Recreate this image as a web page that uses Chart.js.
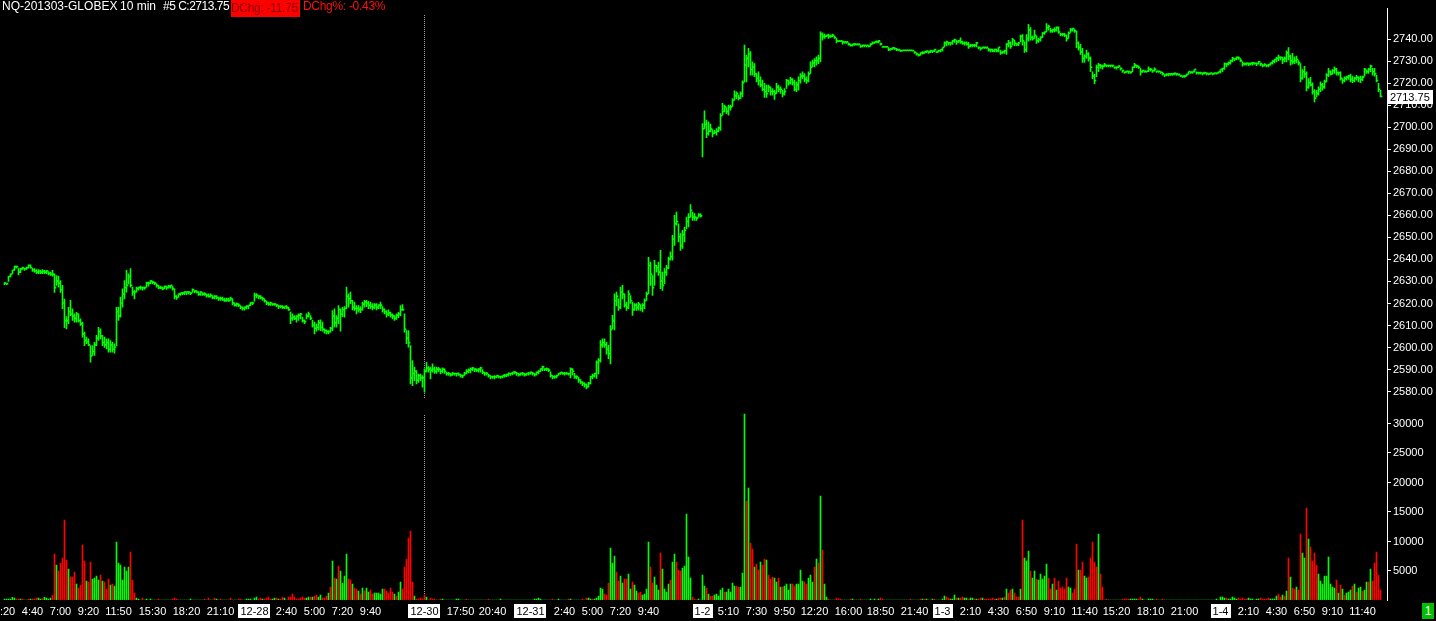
<!DOCTYPE html>
<html>
<head>
<meta charset="utf-8">
<script src="https://cdn.jsdelivr.net/npm/chart.js@4.4.0/dist/chart.umd.min.js"></script>
<style>
  html, body { margin: 0; padding: 0; background: #000; }
  #wrap { position: relative; width: 1436px; height: 621px; overflow: hidden; background: #000; }
  #chart { position: absolute; left: 0; top: 0; }
  .hdr { position: absolute; top: -1px; height: 17px; line-height: 17px; font: 12px 'Liberation Sans', Arial, sans-serif; color: #fff; white-space: pre; }
  #dchg { background: #ff0000; color: #8a0000; top: 0; line-height: 16px; height: 17px; width: 69px; letter-spacing: -0.3px; }
  #dpct { color: #ff1010; letter-spacing: -0.3px; }
  #page { position: absolute; left: 1422px; top: 603px; width: 12px; height: 16px; background: #00c000; color: #fff; font: 12px 'Liberation Sans', Arial, sans-serif; line-height: 16px; text-align: center; }
</style>
</head>
<body>
<div id="wrap">
  <canvas id="chart" width="1436" height="621"></canvas>
  <div class="hdr" style="left:2px">NQ-201303-GLOBEX</div>
  <div class="hdr" style="left:120px">10 min</div>
  <div class="hdr" style="left:163px;letter-spacing:-0.5px">#5 C:2713.75</div>
  <div class="hdr" id="dchg" style="left:231px">DChg: -11.75</div>
  <div class="hdr" id="dpct" style="left:303px">DChg%: -0.43%</div>
  <div id="page">1</div>
</div>
<script>
// 10 minute bars, one entry per bar, left to right
const lows = [
  2628.5, 2628.5, 2630, 2632, 2633.5, 2635, 2636, 2633, 2634, 2635.5, // 0
  2635, 2635.5, 2636, 2636, 2634.5, 2634.2, 2633.5, 2633.5, 2633.5, 2633.5,
  2633.5, 2633.5, 2633, 2632.7, 2632.4, 2625, 2628.2, 2627.4, 2625, 2617.6,
  2609, 2608.5, 2610.8, 2614.5, 2612.3, 2611.5, 2611.5, 2611.5, 2610, 2604.7,
  2600.9, 2601.7, 2600.9, 2593.3, 2596.4, 2596.4, 2600.9, 2603.2, 2603.9, 2600.9,
  2600.1, 2599.4, 2597.9, 2597.9, 2597.9, 2597.4, 2600.9, 2612.3, 2613.8, 2618.3, // 50
  2622.1, 2625.1, 2628.9, 2627.4, 2623.6, 2622.1, 2625.1, 2626, 2626.4, 2626,
  2626.4, 2627.4, 2627.9, 2629, 2628.9, 2628.5, 2627.4, 2626.7, 2626.7, 2626.2,
  2626.7, 2626.4, 2627, 2627, 2626, 2622.1, 2621.8, 2622.9, 2623.6, 2624,
  2624, 2624, 2624.2, 2624, 2625.1, 2624.8, 2624.8, 2623.6, 2623.6, 2623.6,
  2623.6, 2622.9, 2622.9, 2622.9, 2622.1, 2622.1, 2622.1, 2621.4, 2621.4, 2621.4, // 100
  2620.9, 2620.9, 2620.9, 2621.4, 2619.4, 2618.8, 2618.8, 2618.5, 2617.5, 2617,
  2617, 2617.5, 2617.5, 2619, 2619.5, 2621, 2622.5, 2622.1, 2622.1, 2621.4,
  2620.6, 2619.5, 2619.1, 2619.1, 2619.1, 2619.1, 2618.6, 2617.6, 2618, 2617.6,
  2617.6, 2617.6, 2616.8, 2610.8, 2612.3, 2612.6, 2611.5, 2612.3, 2613, 2611.5,
  2610.8, 2613, 2613.8, 2612.6, 2609.2, 2606.2, 2607.4, 2608, 2607.7, 2607.4, // 150
  2606.5, 2606.2, 2606.2, 2607, 2607.7, 2609.2, 2609.2, 2610.8, 2607.4, 2614,
  2613.8, 2617.6, 2618.3, 2619.9, 2617.1, 2616.8, 2615.3, 2616.1, 2615.8, 2617,
  2618.3, 2618.6, 2617.6, 2617.6, 2617.1, 2617.6, 2617.1, 2617.6, 2617.6, 2616.1,
  2615.3, 2613.8, 2614.5, 2613.8, 2613, 2612.3, 2612.8, 2613.5, 2614.5, 2616.8,
  2607, 2601.7, 2600.2, 2583.5, 2582.7, 2585, 2583.5, 2584.2, 2585, 2582, // 200
  2579.7, 2588.8, 2588.8, 2585.8, 2588.8, 2588.3, 2588.3, 2589, 2588, 2588.5,
  2588.3, 2587.5, 2587.3, 2587, 2587.3, 2587.5, 2587, 2587.3, 2586.5, 2586.3,
  2587.3, 2588, 2588.5, 2588.5, 2589.5, 2589, 2589, 2588.8, 2588.8, 2588,
  2587.3, 2587.5, 2586.5, 2585.8, 2586, 2585.8, 2586.2, 2586.2, 2586, 2586.2,
  2586.5, 2586.8, 2587, 2587.3, 2587.6, 2588, 2587.3, 2587, 2587.3, 2587.5, // 250
  2587, 2587.3, 2587.5, 2587.8, 2587.5, 2587, 2587.5, 2588, 2589, 2589.5,
  2589.5, 2589.5, 2589, 2586.5, 2585.8, 2586, 2586.2, 2587.3, 2587.8, 2587.8,
  2587.5, 2587.8, 2587.5, 2586.2, 2587.5, 2586, 2585.8, 2584.2, 2583.5, 2582.7,
  2582, 2581.2, 2582, 2583.5, 2585.8, 2586.5, 2586, 2588, 2593.3, 2600,
  2600, 2597, 2595, 2592.6, 2608.5, 2608, 2619, 2616.8, 2617.6, 2622.1, // 300
  2618.3, 2616.8, 2617.6, 2620, 2614.6, 2616.8, 2616.8, 2617, 2616.8, 2616.2,
  2617.6, 2621.4, 2624.4, 2628.2, 2623.6, 2628.2, 2634.2, 2632.7, 2626.7, 2625.9,
  2629, 2632.7, 2635.8, 2639.6, 2639.6, 2646.4, 2655.5, 2647.9, 2644.1, 2645,
  2647.9, 2654, 2654.7, 2659.2, 2657.7, 2657.7, 2657.7, 2659.2, 2659.2, 2686.5,
  2699.4, 2695.3, 2696.4, 2697.9, 2695.6, 2697.1, 2696.4, 2697.9, 2698.6, 2705.5, // 350
  2707, 2706.2, 2705.5, 2707.7, 2709.5, 2712.3, 2713, 2712.3, 2713, 2713.8,
  2720.6, 2720.6, 2727.4, 2723.6, 2723.6, 2722.9, 2720.6, 2719.1, 2718.3, 2716.5,
  2713.5, 2713.5, 2716.1, 2714.6, 2714.6, 2712.6, 2715.3, 2716.1, 2715.3, 2713.8,
  2714.6, 2717.6, 2719.1, 2719.5, 2719.1, 2716.5, 2716.1, 2716.8, 2720, 2722.1,
  2720.6, 2719.9, 2720.6, 2724.4, 2727.4, 2727.4, 2728.2, 2728.9, 2729.7, 2739.5, // 400
  2740.3, 2741.1, 2740.3, 2740.8, 2741.1, 2740.3, 2738.3, 2738.8, 2738.8, 2737.7,
  2738, 2738, 2737.3, 2736.8, 2736.8, 2737.1, 2737.3, 2737.3, 2736.2, 2736.5,
  2736.5, 2736.5, 2736.5, 2736.8, 2737.7, 2738, 2738.3, 2738.3, 2737.3, 2736.2,
  2736.2, 2736.2, 2734.7, 2735, 2735.3, 2735.3, 2734.7, 2734.7, 2734.3, 2734.6,
  2734.6, 2734.6, 2734.6, 2734.6, 2734.5, 2733.5, 2732.7, 2732.3, 2732.7, 2733.2, // 450
  2733.5, 2733.8, 2733.5, 2733.8, 2733.8, 2734.3, 2733.8, 2734.2, 2734.2, 2734.5,
  2736.5, 2736.9, 2737.3, 2737.3, 2737.6, 2738.5, 2737.6, 2738.5, 2738, 2737.6,
  2737.3, 2737.3, 2735.8, 2736.4, 2736.5, 2736.5, 2736.5, 2735.5, 2735, 2735.8,
  2735.8, 2735.8, 2734.5, 2734.2, 2734.2, 2734.2, 2734.2, 2734.2, 2733, 2733.5,
  2733.5, 2733, 2736.5, 2735.8, 2737.3, 2737, 2737, 2737, 2738.8, 2737.3, // 500
  2734, 2734.2, 2739.1, 2739.5, 2739.5, 2740.3, 2738, 2738.5, 2739.1, 2740.6,
  2742.1, 2743.3, 2744.1, 2743, 2743, 2743.3, 2743.6, 2742.6, 2741.5, 2741.5,
  2741.1, 2739.1, 2740.3, 2743, 2743.6, 2743, 2736.1, 2735, 2733, 2729.4,
  2729.4, 2731.2, 2730, 2725.2, 2722.1, 2719.8, 2722.9, 2725.2, 2726.7, 2726.4,
  2727.4, 2727.4, 2727.4, 2727.4, 2727.4, 2726.7, 2726.4, 2727, 2725.9, 2724.9, // 550
  2724.4, 2724.9, 2724.4, 2724.4, 2725.2, 2727, 2727, 2726.7, 2723.6, 2724.9,
  2724.9, 2724.9, 2725.2, 2725.5, 2724.9, 2725.5, 2724.9, 2724.9, 2724.4, 2723.6,
  2722.9, 2723.3, 2723.3, 2723.5, 2723.5, 2723.8, 2723.5, 2723.5, 2722.9, 2722.6,
  2722.6, 2723.2, 2724.1, 2724.4, 2724.4, 2725, 2724.1, 2724.1, 2724.1, 2723.8,
  2724.1, 2723.8, 2723.8, 2724.1, 2723.8, 2724.1, 2724.1, 2724.4, 2724.7, 2725.2, // 600
  2726.2, 2727.4, 2728.2, 2728.6, 2729.7, 2730.2, 2730.5, 2730.8, 2729.7, 2727.7,
  2728.2, 2728.2, 2728, 2728.2, 2728.2, 2728.5, 2728, 2728.6, 2728, 2727.4,
  2727.7, 2727.4, 2727.4, 2728.2, 2728.6, 2729.2, 2729.7, 2730.2, 2730.5, 2728.9,
  2729.7, 2729.7, 2730.5, 2728.2, 2728.6, 2728.9, 2729.2, 2728.2, 2720.6, 2721.7,
  2722.6, 2716.5, 2717.6, 2718.6, 2715, 2711.5, 2713.8, 2714.6, 2716.1, 2716.8, // 650
  2717.6, 2720.6, 2722.9, 2723.6, 2724.1, 2724.4, 2723.6, 2723.6, 2721.4, 2719.9,
  2720.6, 2721.4, 2721.7, 2720.6, 2720.2, 2720.6, 2721.4, 2720.6, 2720.2, 2721.1,
  2723.2, 2724.4, 2724.4, 2725.2, 2723.6, 2723.2, 2720.6, 2716.1, 2713.8
];

const highs = [
  2629.5, 2629, 2632.3, 2633.5, 2635, 2637, 2637, 2636, 2636, 2636.5, // 0
  2636, 2636.5, 2637.5, 2637.5, 2636, 2635.8, 2635.4, 2635.4, 2635, 2635.4,
  2635, 2635, 2634.5, 2634.2, 2635, 2633.5, 2632.7, 2632.4, 2630.4, 2628.2,
  2622, 2614, 2618.3, 2621.4, 2617.6, 2615.3, 2616, 2615.3, 2613, 2611.5,
  2607, 2604.7, 2603.9, 2600.9, 2600.9, 2602.4, 2605.5, 2609.2, 2608.5, 2605.5,
  2604.7, 2603.9, 2603.9, 2603.2, 2602.4, 2601.7, 2618.3, 2618.3, 2622.9, 2626.7, // 50
  2630.4, 2635, 2633.5, 2635.8, 2627.4, 2625.9, 2627.4, 2627.4, 2627.9, 2627.4,
  2627.4, 2629.7, 2629.7, 2630.4, 2630, 2629.7, 2628.9, 2628.2, 2627.9, 2627.4,
  2627.9, 2627.9, 2628.2, 2628.2, 2627.9, 2626.7, 2623.6, 2624.4, 2624.8, 2625.1,
  2625.4, 2625.4, 2625.4, 2625.1, 2626.7, 2625.9, 2625.9, 2625.4, 2625.4, 2625,
  2625, 2624.4, 2624.4, 2624.4, 2623.6, 2623.6, 2623.6, 2622.9, 2622.9, 2622.9, // 100
  2622.4, 2622.4, 2622.4, 2622.9, 2622.1, 2620.3, 2620.3, 2620, 2619, 2618.5,
  2618.5, 2619, 2619, 2620.5, 2620.6, 2624.7, 2624.5, 2623.6, 2623.6, 2622.9,
  2622.1, 2621.1, 2620.6, 2620.6, 2620, 2620, 2619.5, 2619.1, 2619.1, 2619.1,
  2618.6, 2619.1, 2618.3, 2616.1, 2615.3, 2614.5, 2614.5, 2615.3, 2615.5, 2613.8,
  2612.6, 2615.3, 2616.1, 2614.5, 2612.3, 2611.5, 2610.8, 2612.3, 2612.6, 2611.5, // 150
  2608.5, 2608, 2607.7, 2609.2, 2616.8, 2617.6, 2614.5, 2619.1, 2617.6, 2618.3,
  2618.6, 2627.4, 2624.4, 2625.2, 2621.4, 2620.6, 2619.1, 2619.1, 2618.6, 2620.6,
  2621.4, 2621.4, 2621, 2620.6, 2619.9, 2619.9, 2619.9, 2619.5, 2620.6, 2618.6,
  2617.6, 2616.8, 2617.1, 2616.1, 2615.3, 2614.5, 2615.3, 2616, 2619.1, 2619.5,
  2615.3, 2607.7, 2607.7, 2600.9, 2594.1, 2591.1, 2589.5, 2588, 2588, 2587.3, // 200
  2590.3, 2593.3, 2591.4, 2591.1, 2592.6, 2591.1, 2591.1, 2591, 2590.3, 2590.8,
  2590.3, 2588.8, 2588.8, 2588.3, 2588.8, 2588.3, 2588.3, 2588.5, 2588, 2587.5,
  2588.8, 2590, 2590.3, 2590.8, 2591, 2590.5, 2590.3, 2590.5, 2591.1, 2590,
  2588.8, 2588.8, 2587.8, 2587.3, 2587, 2587.3, 2587.3, 2587.3, 2587, 2587.3,
  2587.8, 2588, 2588.5, 2588.3, 2588.8, 2589.2, 2588.8, 2588.3, 2588.5, 2588.8, // 250
  2588.3, 2588.3, 2588.8, 2589, 2588.8, 2588.3, 2589, 2589.5, 2590.5, 2591.6,
  2590.5, 2590.8, 2590.5, 2589, 2587.3, 2587.3, 2587.5, 2588.3, 2588.8, 2588.8,
  2588.8, 2588.8, 2588.3, 2590.8, 2590.5, 2588.3, 2587.3, 2586.5, 2585.5, 2584.5,
  2584, 2583.5, 2584.2, 2587, 2588, 2588.3, 2594, 2595, 2603.2, 2604,
  2603.9, 2602.4, 2601, 2610, 2614.6, 2624.4, 2625.2, 2622.1, 2627.4, 2628.2, // 300
  2624.4, 2620.6, 2625.9, 2623.6, 2620.6, 2619.9, 2619.9, 2620.5, 2619.5, 2619.9,
  2622.1, 2625.2, 2641, 2638.8, 2632.7, 2639.6, 2637.3, 2638.8, 2644.1, 2634.2,
  2635.8, 2637.3, 2641.1, 2643.4, 2650.9, 2660, 2661.5, 2656.2, 2651.7, 2653.2,
  2654.7, 2659.2, 2660.8, 2664.9, 2661.5, 2660.8, 2659.2, 2660.8, 2660.8, 2701.7,
  2707.4, 2703.2, 2702.4, 2701.4, 2698.9, 2698.6, 2699.4, 2700.2, 2706.2, 2710.8, // 350
  2710, 2708.9, 2710, 2710, 2713, 2716.5, 2716.1, 2714.6, 2716.1, 2721.1,
  2737.3, 2732.7, 2735.8, 2734.3, 2729.7, 2728.9, 2724.4, 2725.2, 2722.9, 2721.4,
  2719.9, 2719.1, 2719.1, 2718.3, 2717.6, 2716.8, 2719.9, 2719.1, 2718.3, 2716.8,
  2717.6, 2721.7, 2721.4, 2722.6, 2722.1, 2721.4, 2720.6, 2722.9, 2724.4, 2725.2,
  2724.4, 2722.9, 2725.2, 2729.7, 2730.5, 2731.2, 2732, 2732.7, 2743.3, 2742.9, // 400
  2742.3, 2741.8, 2742.3, 2741.8, 2742.3, 2741.4, 2740.3, 2739.2, 2739.2, 2739.2,
  2738.8, 2738.8, 2738.3, 2737.7, 2737.7, 2738, 2737.7, 2737.7, 2737.3, 2737.3,
  2737.3, 2737.1, 2737.1, 2738, 2738.8, 2738.8, 2739.2, 2739.5, 2738.3, 2736.5,
  2736.5, 2736.5, 2736.2, 2735.8, 2736.2, 2736.2, 2735.8, 2735.3, 2735, 2734.8,
  2734.8, 2734.8, 2734.8, 2734.8, 2734.8, 2734.3, 2733.8, 2733.2, 2733.8, 2734.3, // 450
  2734.3, 2734.7, 2734.3, 2735, 2734.7, 2735.3, 2734.3, 2735, 2735.3, 2736.1,
  2738.8, 2739.1, 2738.5, 2738.5, 2739.5, 2740, 2739.5, 2739.5, 2740.6, 2739.1,
  2738.8, 2738.8, 2738.5, 2737.6, 2737.6, 2737.6, 2738.5, 2736.5, 2736.1, 2736.4,
  2736.4, 2736.4, 2735.8, 2735.5, 2735.5, 2735.5, 2735.5, 2736.1, 2735, 2734.5,
  2735, 2738, 2739.5, 2738.8, 2740.3, 2739.5, 2738, 2738.5, 2741.8, 2742.1, // 500
  2738.8, 2742.1, 2746.7, 2745.2, 2741.5, 2744.1, 2741.5, 2740.3, 2741.1, 2743,
  2743.3, 2747.1, 2746.4, 2744.9, 2744.5, 2745.2, 2745.6, 2745.6, 2742.6, 2742.6,
  2742.6, 2741.8, 2743.3, 2744.9, 2744.9, 2744.5, 2743.6, 2738.8, 2737.6, 2735.8,
  2733, 2735, 2733.9, 2732, 2725.2, 2724, 2728.2, 2729, 2728.5, 2728.2,
  2729, 2728.2, 2728.2, 2728.2, 2728.2, 2727.4, 2727.4, 2727.9, 2727, 2725.9, // 550
  2725.2, 2725.5, 2725.5, 2725.2, 2727.4, 2729, 2728.2, 2727.9, 2726.7, 2725.9,
  2725.5, 2725.5, 2727.4, 2726.7, 2725.9, 2727, 2725.5, 2725.5, 2725.2, 2724.9,
  2723.9, 2724.4, 2724.4, 2724.4, 2724.4, 2724.7, 2724.4, 2724.1, 2723.6, 2723.2,
  2723.6, 2724.1, 2725.2, 2725.2, 2725.2, 2726.2, 2725.2, 2725, 2725, 2724.7,
  2725, 2724.7, 2724.4, 2724.7, 2724.4, 2724.7, 2724.7, 2725.2, 2726.2, 2726.7, // 600
  2729.2, 2728.9, 2729.7, 2730.5, 2731.7, 2731.2, 2732, 2732, 2731.2, 2729.7,
  2729.2, 2729.2, 2729.2, 2729.2, 2729.5, 2729.2, 2729.2, 2729.9, 2729.2, 2728.6,
  2728.9, 2728.2, 2728.6, 2729.2, 2730.2, 2730.8, 2731.7, 2732.7, 2732, 2731.7,
  2732, 2734.7, 2736.2, 2732.7, 2733.5, 2732, 2732.3, 2730.2, 2728.9, 2726.2,
  2727.7, 2725.2, 2722.1, 2722.6, 2720.2, 2717.1, 2716.8, 2718.3, 2720.6, 2719.9, // 650
  2721.4, 2724.4, 2726.7, 2725.6, 2726.2, 2727.4, 2726.7, 2725.2, 2725.2, 2722.1,
  2722.9, 2723.2, 2723.6, 2724.1, 2723.2, 2722.6, 2723.6, 2722.9, 2723.2, 2723.2,
  2726.7, 2725.9, 2726.7, 2728.2, 2726.7, 2726.7, 2723.6, 2719.9, 2716.8
];

const closes = [
  2629, 2628.75, 2632, 2633, 2635, 2636.5, 2636.5, 2634, 2635.5, 2636, // 0
  2635.5, 2636, 2637, 2636, 2635, 2634.5, 2634, 2634.5, 2634, 2634.5,
  2634, 2634.5, 2633.5, 2633, 2633, 2627, 2630, 2629, 2626, 2620,
  2612, 2612, 2616, 2615, 2614, 2613, 2615, 2612, 2610.5, 2606,
  2603, 2602.5, 2601, 2596, 2598, 2601, 2604, 2607, 2605, 2602,
  2601, 2602, 2599, 2601, 2599, 2600, 2616, 2614, 2620, 2624, // 50
  2627, 2628, 2632, 2628, 2625, 2625, 2626.5, 2627, 2627, 2627,
  2627, 2629, 2629, 2630, 2629.5, 2629, 2628, 2627, 2627, 2626.5,
  2627.5, 2627, 2627.5, 2628, 2626.5, 2623, 2622.5, 2624, 2624.5, 2624.5,
  2625, 2625, 2625, 2624.5, 2626, 2625.5, 2625, 2624, 2625, 2624,
  2624, 2623.5, 2623, 2623.5, 2622.5, 2623, 2622.5, 2622, 2622, 2621.5, // 100
  2621, 2621.5, 2621, 2622, 2620, 2619, 2619.5, 2619, 2618, 2617.5,
  2618, 2618.5, 2619, 2620, 2620, 2623.5, 2623.5, 2623, 2622.5, 2622,
  2621, 2620, 2619.5, 2620, 2619.5, 2619.5, 2619, 2618.5, 2618.5, 2618,
  2618.5, 2618, 2617, 2613, 2613.5, 2613, 2614, 2614.5, 2615, 2612,
  2611.5, 2614, 2615, 2613, 2610, 2608.5, 2609, 2611, 2609, 2608, // 150
  2607.5, 2607, 2607, 2608.5, 2614, 2611, 2613, 2617, 2615, 2617,
  2617.5, 2623, 2622, 2621, 2618, 2617.5, 2617.5, 2617, 2617, 2619.5,
  2620.5, 2620, 2619, 2618.5, 2618, 2619, 2618, 2619, 2619, 2617,
  2616, 2615, 2615.5, 2614.5, 2614, 2613, 2614.5, 2615, 2617, 2617,
  2608, 2604, 2602, 2586, 2588, 2589, 2585, 2587, 2586, 2586, // 200
  2589, 2590.5, 2590, 2589.5, 2590, 2589, 2590, 2590, 2589, 2590,
  2589, 2588, 2588, 2587.5, 2588, 2588, 2588, 2587.5, 2587, 2587,
  2588, 2589, 2589.5, 2590, 2590.5, 2590, 2589.5, 2590, 2590.5, 2588.5,
  2588, 2588, 2587, 2586.5, 2586.5, 2586.5, 2587, 2586.5, 2586.5, 2587,
  2587, 2587.5, 2588, 2588, 2588.5, 2588.5, 2588, 2587.5, 2588, 2588, // 250
  2587.5, 2588, 2588, 2588.5, 2588, 2587.5, 2588.5, 2589, 2590, 2591,
  2590, 2590, 2589.5, 2587, 2586.5, 2586.5, 2587, 2588, 2588.5, 2588,
  2588, 2588, 2588, 2590, 2589, 2586.5, 2586.5, 2585, 2584, 2583.5,
  2583, 2582, 2583.5, 2586.5, 2587, 2588, 2593, 2594, 2601, 2602,
  2601, 2599, 2597, 2608, 2612, 2621, 2623, 2618, 2625, 2624, // 300
  2619, 2618, 2624, 2621, 2617, 2619, 2618, 2619.5, 2617.5, 2619,
  2621, 2624, 2637, 2633, 2627, 2637, 2636, 2634, 2630, 2628,
  2634, 2636, 2640, 2641, 2649, 2656, 2657, 2650, 2646, 2651,
  2653, 2657, 2659, 2662, 2659, 2659, 2658.5, 2660, 2659.5, 2699,
  2701, 2697, 2698, 2699, 2697, 2697.5, 2698, 2699.5, 2705, 2707, // 350
  2709, 2707, 2709, 2709, 2712, 2714, 2715, 2713, 2715, 2720,
  2728, 2731, 2733, 2726, 2727, 2724, 2722, 2721, 2719, 2717,
  2716, 2715, 2718, 2716, 2716, 2715, 2718, 2717, 2717, 2715,
  2716, 2721, 2720, 2721.5, 2720, 2717, 2719, 2721, 2723, 2723,
  2721.5, 2721, 2724, 2727, 2729, 2730, 2730, 2731, 2742, 2741, // 400
  2741, 2741.5, 2741, 2741, 2741.5, 2740.5, 2739, 2739, 2739, 2738.5,
  2738.5, 2738.5, 2737.5, 2737, 2737.5, 2737.5, 2737.5, 2737.5, 2736.5, 2737,
  2737, 2737, 2736.5, 2737.5, 2738, 2738.5, 2738.5, 2739, 2737.5, 2736.3,
  2736.3, 2736.3, 2735, 2735.3, 2735.8, 2735.5, 2735, 2735, 2734.5, 2734.7,
  2734.7, 2734.7, 2734.7, 2734.7, 2734.6, 2733.8, 2733, 2732.5, 2733.5, 2733.5, // 450
  2734, 2734.3, 2734, 2734.5, 2734.3, 2735, 2734, 2734.5, 2735, 2736,
  2738, 2738.5, 2738, 2738, 2739, 2739.5, 2738.5, 2739, 2738.5, 2738,
  2738, 2737.5, 2736.5, 2737, 2737, 2737, 2738, 2736, 2735.5, 2736,
  2736, 2736, 2735, 2735, 2734.5, 2735, 2734.5, 2736, 2733.5, 2734,
  2734.5, 2737.5, 2738, 2736.5, 2739.5, 2738, 2737.5, 2738, 2741, 2739, // 500
  2735, 2740, 2744, 2740.5, 2740, 2741.5, 2739, 2739.5, 2740.5, 2742.5,
  2743, 2745, 2745.5, 2743.5, 2744, 2744, 2745, 2743, 2742, 2742,
  2741.5, 2740, 2742.5, 2744, 2744.5, 2743.5, 2738, 2736, 2734, 2731,
  2732, 2733, 2731, 2727, 2723, 2721, 2727, 2728, 2727.5, 2727.5,
  2728, 2727.8, 2727.8, 2727.8, 2727.8, 2727, 2727, 2727.5, 2726.5, 2725.5, // 550
  2724.8, 2725.2, 2725, 2724.8, 2727, 2728, 2727.5, 2727, 2725, 2725.5,
  2725.2, 2725.2, 2726, 2726, 2725.5, 2726, 2725.2, 2725.2, 2724.8, 2724,
  2723.5, 2723.8, 2724, 2724, 2724, 2724.2, 2724, 2723.8, 2723.2, 2723,
  2723, 2723.8, 2725, 2724.8, 2725, 2726, 2724.5, 2724.5, 2724.4, 2724.3,
  2724.5, 2724.2, 2724, 2724.4, 2724.1, 2724.4, 2724.4, 2725, 2726, 2726.5, // 600
  2728.5, 2728.5, 2729, 2730, 2731, 2730.8, 2731.5, 2731.2, 2730, 2728.5,
  2728.5, 2728.8, 2728.5, 2728.8, 2729, 2728.8, 2728.6, 2729.5, 2728.5, 2727.8,
  2728.2, 2727.8, 2728.2, 2729, 2729.8, 2730.5, 2731, 2731.5, 2731.5, 2730.5,
  2731, 2733.5, 2732, 2730, 2729.5, 2730, 2730.5, 2729, 2722, 2725,
  2724, 2718, 2720, 2719, 2716, 2713, 2715, 2717, 2719, 2718, // 650
  2720.5, 2723.5, 2725, 2724, 2725.5, 2726, 2724.5, 2724.5, 2722, 2721,
  2722, 2722.5, 2723, 2721.5, 2721, 2722, 2722.5, 2722, 2721.5, 2722.5,
  2726, 2725, 2726, 2727.5, 2725, 2724, 2721, 2717, 2713.75
];

const volume = [
  170, 170, 170, 170, 450, 340, 170, 170, 170, 170, // 0
  0, 0, 170, 170, 170, 170, 340, 340, 170, 250,
  450, 340, 170, 340, 790, 7770, 5900, 4900, 6250, 7100,
  13500, 6750, 5240, 3880, 3880, 4730, 2700, 2030, 2530, 9290,
  6590, 3210, 3040, 6420, 3550, 3720, 4050, 3380, 4220, 3210,
  3040, 1860, 3550, 2530, 2700, 2360, 9800, 6250, 5910, 3380, // 50
  5570, 4900, 5570, 8110, 3380, 1180, 340, 170, 0, 340,
  0, 170, 0, 170, 0, 0, 0, 170, 0, 0,
  0, 0, 0, 0, 170, 340, 170, 0, 0, 0,
  0, 0, 0, 170, 0, 0, 0, 0, 0, 0,
  170, 0, 340, 0, 0, 340, 170, 0, 170, 0, // 100
  0, 0, 0, 340, 0, 0, 0, 170, 170, 0,
  0, 170, 170, 170, 0, 340, 510, 170, 340, 170,
  170, 340, 510, 170, 170, 340, 340, 170, 170, 510,
  340, 0, 510, 510, 1010, 510, 170, 170, 340, 510,
  340, 340, 510, 510, 510, 675, 845, 510, 845, 340, // 150
  340, 675, 1180, 2200, 6590, 3720, 3550, 5740, 4900, 2870,
  4050, 7770, 3550, 3380, 2700, 2030, 1860, 1520, 1010, 2030,
  1520, 2030, 1350, 1690, 1010, 1180, 1180, 1180, 1010, 1860,
  1860, 1520, 1180, 2030, 1350, 1010, 675, 1350, 3040, 1860,
  5570, 6920, 10470, 11650, 3040, 675, 170, 170, 340, 170, // 200
  845, 510, 0, 340, 170, 170, 0, 0, 170, 170,
  0, 0, 0, 0, 0, 0, 170, 170, 0, 0,
  0, 170, 0, 0, 0, 0, 0, 0, 0, 0,
  0, 0, 170, 0, 0, 0, 0, 0, 170, 0,
  0, 0, 0, 0, 0, 0, 0, 0, 0, 0, // 250
  0, 0, 0, 0, 0, 170, 170, 340, 170, 0,
  0, 0, 0, 0, 170, 0, 0, 170, 0, 0,
  0, 0, 170, 170, 0, 0, 0, 0, 0, 170,
  0, 340, 340, 170, 170, 170, 340, 675, 2030, 1860,
  1010, 845, 2870, 8780, 6250, 7430, 4730, 3210, 4050, 2870, // 300
  3550, 3550, 4390, 1860, 3040, 2530, 1520, 1180, 1350, 845,
  1010, 1860, 9800, 5570, 2870, 3880, 2530, 1690, 7940, 5240,
  1860, 1350, 2700, 3380, 6420, 7770, 6420, 5070, 4900, 5400,
  5740, 14530, 7260, 3720, 510, 170, 0, 170, 0, 4220,
  2360, 2030, 1010, 675, 675, 845, 1010, 675, 1690, 2030, // 350
  1350, 1350, 1860, 1350, 2870, 2360, 2360, 2200, 2200, 4560,
  31420, 16720, 18920, 9630, 8610, 5570, 6080, 5070, 6420, 5910,
  6920, 6760, 4220, 3550, 3880, 3720, 3040, 3720, 2200, 2200,
  2360, 2700, 1690, 2700, 2700, 2360, 2700, 2700, 5070, 3210,
  3040, 2700, 3720, 4220, 3040, 5570, 6920, 6250, 17570, 8450, // 400
  2700, 510, 170, 0, 0, 0, 340, 170, 170, 0,
  0, 0, 0, 170, 170, 0, 0, 0, 170, 0,
  0, 0, 0, 170, 0, 170, 0, 170, 340, 170,
  0, 0, 0, 0, 0, 0, 0, 0, 0, 0,
  0, 0, 0, 170, 0, 0, 0, 0, 170, 170, // 450
  170, 170, 0, 0, 170, 170, 0, 0, 0, 170,
  675, 510, 340, 170, 170, 845, 340, 340, 340, 510,
  340, 340, 170, 340, 340, 170, 170, 170, 340, 340,
  170, 170, 170, 170, 340, 170, 170, 340, 340, 340,
  510, 1860, 1180, 1690, 1860, 1180, 510, 510, 1860, 13510, // 500
  7090, 6590, 8280, 4900, 3720, 4900, 3550, 3380, 4390, 3550,
  4050, 6080, 3720, 1860, 2700, 3720, 1690, 3210, 2030, 2200,
  1860, 3720, 2200, 2030, 1180, 1860, 9460, 5070, 5070, 6420,
  4050, 3720, 3880, 7090, 9800, 6420, 5570, 11150, 4390, 2200,
  0, 170, 0, 0, 0, 0, 0, 0, 0, 170, // 550
  170, 170, 170, 170, 170, 170, 170, 170, 510, 170,
  0, 0, 170, 170, 170, 0, 170, 0, 0, 170,
  0, 0, 0, 0, 0, 0, 0, 0, 0, 0,
  0, 0, 0, 0, 0, 0, 0, 0, 0, 0,
  0, 0, 0, 0, 0, 0, 170, 0, 510, 510, // 600
  340, 340, 170, 170, 510, 340, 170, 340, 170, 340,
  170, 170, 340, 170, 170, 0, 170, 170, 340, 170,
  170, 170, 340, 170, 170, 170, 675, 1010, 510, 845,
  675, 1520, 7090, 3880, 2030, 1860, 2200, 1690, 11150, 7940,
  7090, 15540, 10300, 8950, 6590, 7940, 5910, 4390, 3210, 2700, // 650
  4050, 4050, 7260, 2700, 2200, 2030, 3380, 1180, 2530, 1860,
  845, 1180, 1350, 1690, 2360, 2700, 1350, 2030, 2200, 1520,
  1690, 3040, 3040, 5240, 3210, 6250, 8110, 4220, 1690
];

// 1 = up bar (green volume), 0 = down bar (red volume)
const volUp = [
  1,1,1,1,1,1,0,0,1,0, 1,1,0,1,0,0,0,1,1,0, 1,1,1,1,0,0,1,0,0,0, 0,0,1,0,0,0,1,0,0,0, 0,1,0,0,1,1,1,1,0,1, // 0
  0,0,0,1,0,1,1,1,1,1, 1,1,1,0,0,0,1,1,1,0, 1,1,1,1,1,1,1,0,1,1, 1,1,1,1,0,0,0,1,1,1, 1,1,1,1,1,1,1,1,1,1, // 50
  0,1,0,1,1,0,1,1,0,1, 1,1,1,0,1,1,1,0,0,1, 1,1,1,1,1,1,1,0,0,1, 0,0,0,0,1,1,0,1,0,0, 1,1,0,0,0,0,0,0,0,0, // 100
  0,1,1,0,1,0,0,1,1,0, 0,0,1,0,1,0,1,0,1,1, 1,1,0,0,1,0,0,1,0,1, 0,1,1,0,0,1,1,1,1,1, 0,0,0,0,0,1,0,1,1,0, // 150
  0,0,0,0,0,1,0,0,0,0, 0,1,1,0,0,0,1,1,0,1, 1,1,1,1,1,1,1,1,1,1, 1,0,1,1,1,1,1,1,1,1, 1,1,0,1,1,1,1,1,1,1, // 200
  1,1,1,1,1,1,1,1,1,1, 1,1,1,1,1,1,1,1,1,1, 1,1,1,1,0,1,1,1,1,1, 1,1,0,1,1,1,1,1,1,0, 1,0,1,1,0,1,1,1,1,1, // 250
  0,0,0,1,1,1,0,0,1,1, 0,0,1,1,0,1,1,0,0,1, 1,1,1,0,0,1,1,1,0,1, 1,1,1,0,1,1,0,0,0,1, 1,1,1,1,0,0,1,1,1,1, // 300
  1,0,1,0,0,1,1,1,1,1, 0,1,1,1,1,1,0,0,1,1, 1,0,1,0,0,1,0,0,1,0, 0,1,0,0,0,1,1,0,1,0, 1,1,1,1,0,0,1,1,1,1, // 350
  0,0,1,1,1,0,1,0,1,0, 1,1,0,1,1,1,0,0,0,1, 1,1,1,0,1,1,1,1,0,1, 1,1,1,1,1,1,1,1,0,0, 1,1,1,1,1,1,1,1,1,1, // 400
  1,1,1,0,1,1,1,1,0,1, 0,1,1,1,1,0,1,1,1,1, 1,0,0,1,1,1,0,1,0,0, 1,1,0,1,1,0,1,0,0,1, 0,0,0,0,0,0,1,0,0,1, // 450
  0,1,0,0,1,0,0,0,1,0, 1,1,1,0,1,1,0,1,1,1, 1,1,0,0,1,0,1,0,0,0, 0,0,1,1,0,0,0,1,0,0, 1,1,0,0,0,0,0,1,0,0, // 500
  1,0,1,1,1,1,1,1,1,0, 0,0,0,1,1,1,1,0,0,1, 1,1,1,1,1,1,0,1,1,0, 1,1,1,1,1,1,1,1,1,1, 1,1,1,1,1,1,1,1,1,1, // 550
  1,1,1,1,1,1,1,1,1,1, 1,0,1,1,1,1,1,0,0,0, 0,0,1,1,1,1,1,1,0,0, 0,0,0,1,1,1,1,0,0,1, 0,1,0,1,0,0,1,0,0,1, // 600
  1,0,1,0,0,0,0,1,1,1, 1,1,1,1,1,1,0,1,0,1, 0,1,1,1,0,1,0,1,1,0, 1,1,0,1,0,0,0,0,0 // 650
];

// time axis labels: bar index and text (dates are boxed)
const tickBars = [0, 14, 28, 42, 57, 74, 91, 108, 125, 141, 155, 169, 183, 210, 228, 244, 263, 280, 294, 308, 322,
  349, 362, 376, 390, 405, 422, 438, 455, 469, 483, 497, 511, 525, 540, 556, 573, 590, 608, 622, 636, 650, 664, 679];
const tickTexts = ['2:20', '4:40', '7:00', '9:20', '11:50', '15:30', '18:20', '21:10', '12-28', '2:40', '5:00', '7:20', '9:40', '12-30', '17:50', '20:40', '12-31', '2:40', '5:00', '7:20', '9:40',
  '1-2', '5:10', '7:30', '9:50', '12:20', '16:00', '18:50', '21:40', '1-3', '2:10', '4:30', '6:50', '9:10', '11:40', '15:20', '18:10', '21:00', '1-4', '2:10', '4:30', '6:50', '9:10', '11:40'];

const volTicks = [5000, 10000, 15000, 20000, 25000, 30000];
const lastPrice = 2713.75;
const cursorBar = 210;

const FONT = "'Liberation Sans', Arial, sans-serif";
const GREEN = '#00ff00';
const RED = '#ff0000';

// price scale: 2750 sits near y=16, 2.2 px per point; volume takes the bottom band
const priceMax = 2753.85;
const priceMin = 2485.4;
const X_MIN = -2.25, X_MAX = 691.25;

const priceBars = lows.map((lo, i) => ({ x: i, y: [lo, highs[i]] }));
const closeTicks = closes.map((c, i) => ({ x: i + 0.5, y: [c, c] }));
const volBars = volume.map((v, i) => ({ x: i, y: v }));

const overlay = {
  id: 'overlay',
  beforeDatasetsDraw(chart) {
    const { ctx, scales: { x } } = chart;
    const cx = x.getPixelForValue(cursorBar);
    ctx.save();
    ctx.strokeStyle = '#a0a0a0';
    ctx.lineWidth = 1;
    ctx.setLineDash([1, 1]);
    ctx.beginPath();
    ctx.moveTo(cx, 15); ctx.lineTo(cx, 399);
    ctx.moveTo(cx, 415); ctx.lineTo(cx, 600);
    ctx.stroke();
    ctx.restore();
  },
  afterDraw(chart) {
    const { ctx, chartArea, scales: { x, y, yv } } = chart;
    const right = chartArea.right;
    ctx.save();
    ctx.font = '11px ' + FONT;
    ctx.textBaseline = 'middle';

    // volume axis
    ctx.fillStyle = '#fff';
    ctx.textAlign = 'left';
    volTicks.forEach(v => {
      const py = Math.round(yv.getPixelForValue(v));
      ctx.fillRect(right, py, 4, 1);
      ctx.fillText(String(v), right + 6, py + 0.5);
    });

    // last price marker
    const lp = Math.round(y.getPixelForValue(lastPrice));
    ctx.fillStyle = '#fff';
    ctx.fillRect(right + 1, lp - 7, 45, 14);
    ctx.fillStyle = '#000';
    ctx.fillText(lastPrice.toFixed(2), right + 3, lp + 0.5);

    // time axis
    ctx.textAlign = 'center';
    tickBars.forEach((b, k) => {
      const px = x.getPixelForValue(b);
      const t = tickTexts[k];
      if (t.includes('-')) {
        const w = ctx.measureText(t).width;
        ctx.fillStyle = '#fff';
        ctx.fillRect(Math.round(px - w / 2 - 2), 604, Math.round(w + 4), 14);
        ctx.fillStyle = '#000';
      } else {
        ctx.fillStyle = '#fff';
      }
      ctx.fillText(t, px, 611.5);
    });
    ctx.restore();
  }
};

new Chart(document.getElementById('chart'), {
  type: 'bar',
  data: {
    datasets: [
      {
        data: priceBars, yAxisID: 'y', backgroundColor: GREEN, borderWidth: 0,
        barThickness: 1, grouped: false, minBarLength: 1
      },
      {
        data: closeTicks, yAxisID: 'y', backgroundColor: GREEN, borderWidth: 0,
        barThickness: 1, grouped: false, minBarLength: 1
      },
      {
        data: volBars, yAxisID: 'yv', borderWidth: 0, barThickness: 1, grouped: false,
        backgroundColor: volUp.map(u => u ? GREEN : RED)
      }
    ]
  },
  options: {
    responsive: false,
    animation: false,
    devicePixelRatio: 1,
    layout: { padding: { left: 0, right: 0, top: 8, bottom: 21 } },
    plugins: { legend: { display: false }, tooltip: { enabled: false } },
    scales: {
      // bars sit on a plain numeric axis, 2 px per 10-minute bar
      x: {
        type: 'linear', min: X_MIN, max: X_MAX, display: false, offset: false, bounds: 'data',
        grid: { offset: false },
        afterDataLimits: s => { s.min = X_MIN; s.max = X_MAX; },
        afterBuildTicks: s => { s.min = X_MIN; s.max = X_MAX; }
      },
      y: {
        position: 'right', min: priceMin, max: priceMax,
        afterBuildTicks: s => { s.ticks = s.ticks.filter(t => t.value >= 2580 && t.value <= 2750); },
        afterFit: s => { s.width = 49; },
        ticks: {
          stepSize: 10, color: '#fff', padding: 2, font: { family: FONT, size: 11 },
          callback: v => Number(v).toFixed(2)
        },
        grid: { drawOnChartArea: false, drawTicks: true, tickLength: 4, color: '#fff' },
        border: { display: true, color: '#fff', width: 1 }
      },
      yv: { position: 'right', display: false, min: 0, max: 100000 }
    }
  },
  plugins: [overlay]
});
</script>
</body>
</html>
